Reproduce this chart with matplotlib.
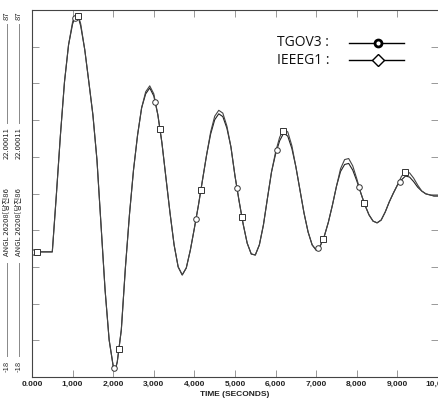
import numpy as np
import matplotlib
matplotlib.use("Agg")
import matplotlib.pyplot as plt
from matplotlib.lines import Line2D

# time axis (s)
t = [0.0, 0.5, 0.6, 0.7, 0.8, 0.9, 1.0, 1.05, 1.1, 1.15, 1.2, 1.3, 1.4, 1.5, 1.6, 1.7, 1.8, 1.9,
     2.0, 2.05, 2.1, 2.2, 2.3, 2.4, 2.5, 2.6, 2.7, 2.8, 2.9, 3.0, 3.1, 3.2, 3.3, 3.4,
     3.5, 3.6, 3.7, 3.8, 3.9, 4.0, 4.1, 4.2, 4.3, 4.4, 4.5, 4.6, 4.7, 4.8, 4.9, 5.0,
     5.1, 5.2, 5.3, 5.4, 5.5, 5.6, 5.7, 5.8, 5.9, 6.0, 6.1, 6.2, 6.3, 6.4, 6.5, 6.6,
     6.7, 6.8, 6.9, 7.0, 7.1, 7.2, 7.3, 7.4, 7.5, 7.6, 7.7, 7.8, 7.9, 8.0, 8.1, 8.2,
     8.3, 8.4, 8.5, 8.6, 8.7, 8.8, 8.9, 9.0, 9.1, 9.2, 9.3, 9.4, 9.5, 9.6, 9.7, 9.8,
     9.9, 10.0]

# ANGL 26208 (deg) - TGOV3
tgov3 = [17.8, 17.8, 34.1, 51.2, 66.4, 77.0, 83.0, 84.6, 85.3, 84.5, 82.4, 75.6, 66.4, 57.0, 44.1, 25.5, 6.9, -7.4,
         -14.9, -16.0, -13.7, -4.5, 13.2, 28.4, 41.2, 51.2, 59.0, 63.0, 64.7, 62.4, 57.0, 49.0, 38.9, 28.9,
         19.8, 13.5, 11.2, 13.2, 18.3, 24.6, 31.2, 38.4, 45.5, 51.5, 55.6, 57.3, 56.5, 53.2, 47.8, 39.5,
         32.4, 25.8, 20.3, 17.2, 16.9, 19.8, 25.5, 33.2, 40.7, 45.8, 49.6, 51.8, 50.9, 47.4, 42.1, 35.5,
         28.9, 23.5, 19.8, 18.3, 19.5, 22.3, 26.3, 31.2, 36.6, 40.8, 42.8, 43.1, 41.2, 38.1, 34.6, 31.2,
         28.4, 26.6, 26.1, 26.9, 29.2, 32.1, 34.6, 36.9, 38.4, 39.5, 39.2, 37.9, 36.3, 35.2, 34.4, 34.1,
         33.8, 33.8]

# ANGL 26208 (deg) - IEEEG1
ieeeg1 = [17.8, 17.8, 34.1, 51.2, 66.4, 77.0, 83.6, 85.2, 85.9, 85.1, 83.0, 75.6, 66.4, 57.0, 44.1, 25.5, 6.9, -7.4,
          -14.9, -16.0, -13.7, -4.5, 13.2, 28.4, 41.2, 51.2, 59.0, 63.6, 65.3, 63.0, 57.0, 49.0, 38.9, 28.9,
          19.8, 13.5, 11.2, 13.2, 18.3, 24.6, 31.2, 38.4, 45.5, 52.1, 56.6, 58.3, 57.5, 53.8, 47.8, 39.5,
          32.4, 25.8, 20.3, 17.2, 16.9, 19.8, 25.5, 33.2, 40.7, 46.4, 50.6, 53.0, 52.1, 48.2, 42.1, 35.5,
          28.9, 23.5, 19.8, 18.3, 19.5, 22.3, 26.3, 31.2, 36.6, 41.6, 44.2, 44.5, 42.4, 38.7, 34.6, 31.2,
          28.4, 26.6, 26.1, 26.9, 29.2, 32.1, 34.6, 36.9, 39.4, 40.7, 40.4, 38.9, 36.9, 35.2, 34.4, 34.1,
          33.8, 33.8]

# where the plotting program put its symbols
mark_tgov3 = [0.05, 1.06, 2.02, 3.03, 4.04, 5.05, 6.03, 7.04, 8.05, 9.06]
mark_ieeeg1 = [0.12, 1.13, 2.14, 3.15, 4.16, 5.17, 6.18, 7.17, 8.18, 9.19]

xticks = [0, 1, 2, 3, 4, 5, 6, 7, 8, 9, 10]
xlabels = ["0.000", "1,000", "2,000", "3,000", "4,000", "5,000",
           "6,000", "7,000", "8,000", "9,000", "10,000"]
ymin, ymax = -18, 87

W, H = 438, 398
fig = plt.figure(figsize=(W / 100, H / 100), dpi=100)
ax = fig.add_axes([32 / W, (H - 377) / H, 406 / W, 367 / H])

ax.plot(t, tgov3, color="#222222", lw=0.8)
ax.plot(t, ieeeg1, color="#444444", lw=0.8)
ax.plot(mark_tgov3, np.interp(mark_tgov3, t, tgov3), ls="none", marker="o", ms=4,
        mfc="white", mec="#333333", mew=0.7)
ax.plot(mark_ieeeg1, np.interp(mark_ieeeg1, t, ieeeg1), ls="none", marker="s", ms=4.2,
        mfc="white", mec="#333333", mew=0.7)

ax.set_xlim(0, 10)
ax.set_ylim(ymin, ymax)
ax.set_xticks(xticks)
ax.set_xticklabels(xlabels, fontsize=6, fontweight="bold", family="Liberation Sans")
ax.set_yticks(np.linspace(ymin, ymax, 11)[1:-1])
ax.set_yticklabels([])
ax.tick_params(axis="x", direction="in", length=5, width=0.6, color="#888888",
               top=True, pad=3, labelcolor="#222222")
ax.tick_params(axis="y", direction="in", length=5, width=0.6, color="#888888",
               right=True, left=True)
for s in ["left", "top", "bottom"]:
    ax.spines[s].set_color("#444444")
    ax.spines[s].set_linewidth(0.8)
ax.spines["right"].set_visible(False)
ax.set_xlabel("TIME (SECONDS)", fontsize=6, fontweight="bold", family="Liberation Sans",
              labelpad=2, color="#222222")

# channel scale labels on the left (two identical channels)
def fy(p):
    return 1 - p / H

cjk = ["Noto Sans CJK KR", "DejaVu Sans"]
for xc in [7, 19]:
    xf = xc / W
    fig.text(xf, fy(16), "87", rotation=90, fontsize=5.5, ha="center", va="center",
             family=cjk, color="#222222")
    fig.add_artist(Line2D([xf, xf], [fy(24), fy(123)], color="#888888", lw=0.7))
    fig.text(xf, fy(143), "22.00011", rotation=90, fontsize=5.5, ha="center", va="center",
             family=cjk, color="#222222")
    fig.text(xf, fy(222), "ANGL 26208[당진86", rotation=90, fontsize=5.5, ha="center",
             va="center", family=cjk, color="#222222")
    fig.add_artist(Line2D([xf, xf], [fy(263), fy(356)], color="#888888", lw=0.7))
    fig.text(xf, fy(366), "-18", rotation=90, fontsize=5.5, ha="center", va="center",
             family=cjk, color="#222222")

# legend
lx0, lx1, lmx = 349 / W, 404 / W, 378 / W
for name, yp, mk, ms, mew in [("TGOV3 :", 43, "o", 5, 2.0), ("IEEEG1 :", 60, "D", 6.5, 1.0)]:
    fig.text(277 / W, fy(yp), name, fontsize=10, family="Open Sans", va="center",
             color="#111111")
    fig.add_artist(Line2D([lx0, lx1], [fy(yp), fy(yp)], color="black", lw=1.0))
    fig.add_artist(Line2D([lmx], [fy(yp)], marker=mk, ms=ms, mfc="white", mec="black",
                          mew=mew))

fig.savefig("out.png", dpi=100)
